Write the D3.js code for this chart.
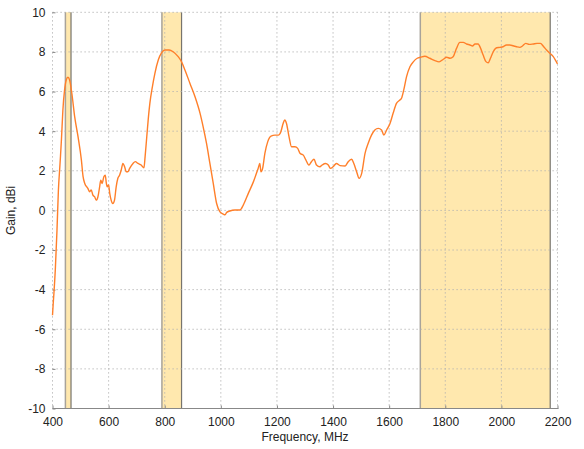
<!doctype html>
<meta charset="utf-8" />
<style>
    body { margin: 0; background: #fff; }
    text { font-family: "Liberation Sans", Arial, sans-serif; fill: #222; }
</style>
<svg></svg>

<script src="https://cdn.jsdelivr.net/npm/d3@7"></script>

<script>
    // measured gain curve (MHz, dBi)
    var freqs = [400, 403, 405, 410, 416, 421, 427, 432, 437, 443, 449, 455, 461, 469, 479, 491,
        503, 509, 515, 526, 532, 538, 544, 550, 556, 562, 568, 572, 577, 583, 588, 592, 595, 600,
        604, 609, 615, 621, 627, 633, 639, 645, 651, 657, 663, 669, 675, 687, 695, 705, 716, 726,
        730, 736, 741, 747, 756, 765, 777, 789, 801, 816, 830, 848, 860, 872, 890, 908, 926, 937,
        949, 961, 973, 985, 997, 1009, 1015, 1021, 1032, 1050, 1068, 1080, 1098, 1116, 1133, 1139,
        1143, 1149, 1157, 1167, 1179, 1193, 1205, 1214, 1222, 1228, 1234, 1243, 1252, 1264, 1274,
        1282, 1294, 1302, 1314, 1323, 1332, 1341, 1353, 1361, 1373, 1383, 1391, 1400, 1412, 1425,
        1443, 1454, 1466, 1474, 1484, 1493, 1502, 1514, 1525, 1537, 1549, 1561, 1573, 1581, 1591,
        1603, 1614, 1626, 1638, 1644, 1652, 1662, 1674, 1686, 1700, 1712, 1727, 1745, 1763, 1778,
        1793, 1805, 1817, 1828, 1840, 1852, 1864, 1876, 1888, 1897, 1906, 1917, 1926, 1935, 1945,
        1953, 1961, 1971, 1983, 1995, 2006, 2018, 2030, 2042, 2054, 2066, 2075, 2087, 2099, 2113,
        2127, 2139, 2151, 2161, 2173, 2185, 2197, 2200];
    var gains = [-5.29, -4.6, -4.2, -3.0, -1.0, 1.0, 2.4, 3.6, 5.06, 6.07, 6.58, 6.72, 6.58, 5.9,
        4.73, 3.72, 2.54, 1.70, 1.36, 1.11, 0.94, 1.03, 0.77, 0.69, 0.52, 0.69, 1.19, 1.53, 1.36,
        1.70, 1.78, 1.36, 1.19, 1.28, 0.86, 0.52, 0.35, 0.52, 1.19, 1.62, 1.78, 2.04, 2.37, 2.2,
        1.95, 1.95, 2.12, 2.37, 2.46, 2.37, 2.29, 2.15, 2.7, 3.72, 4.56, 5.4, 6.24, 6.92, 7.59,
        7.96, 8.1, 8.1, 8.01, 7.76, 7.5, 7.09, 6.41, 5.74, 4.9, 4.22, 3.38, 2.37, 1.36, 0.35,
        -0.07, -0.19, -0.22, -0.10, -0.03, 0.02, 0.02, 0.27, 0.86, 1.44, 2.12, 2.37, 1.95, 2.12,
        2.88, 3.46, 3.75, 3.80, 3.80, 3.97, 4.39, 4.56, 4.39, 3.72, 3.21, 3.21, 3.13, 2.88, 2.79,
        2.58, 2.29, 2.46, 2.58, 2.29, 2.2, 2.29, 2.37, 2.29, 2.12, 2.2, 2.37, 2.26, 2.24, 2.46,
        2.58, 2.37, 1.95, 1.62, 1.87, 2.88, 3.38, 3.80, 4.06, 4.14, 4.06, 3.80, 4.06, 4.39, 4.90,
        5.40, 5.57, 5.66, 6.08, 6.75, 7.25, 7.5, 7.68, 7.73, 7.78, 7.68, 7.56, 7.5, 7.63, 7.73,
        7.68, 7.76, 8.18, 8.48, 8.48, 8.40, 8.35, 8.30, 8.40, 8.40, 8.18, 7.84, 7.51, 7.45, 7.68,
        8.01, 8.21, 8.23, 8.26, 8.35, 8.35, 8.31, 8.26, 8.23, 8.30, 8.43, 8.38, 8.40, 8.43, 8.43,
        8.26, 8.10, 7.93, 7.76, 7.47, 7.4];

    // operating bands (MHz)
    var bandStart = [446, 790, 1711];
    var bandEnd = [466, 860, 2174];

    var xTicks = [400, 600, 800, 1000, 1200, 1400, 1600, 1800, 2000, 2200];
    var yTicks = [-10, -8, -6, -4, -2, 0, 2, 4, 6, 8, 10];

    var W = 584, H = 449;
    var padL = 52.5, padR = 557.5, padT = 12.3, padB = 408.5;

    var svg = d3.select('svg')
        .attr('width', W)
        .attr('height', H)

    var x = d3.scaleLinear().domain([400, 2200]).range([padL, padR]);
    var y = d3.scaleLinear().domain([-10, 10]).range([padB, padT]);

    // plain hyphen for negatives, like the original
    var fmt = function (v) { return String(v); };

    // bands
    var bands = svg.append('g');
    bandStart.forEach(function (s, i) {
        var x0 = x(s), x1 = x(bandEnd[i]);
        bands.append('rect')
            .attr('x', x0).attr('y', padT)
            .attr('width', x1 - x0).attr('height', padB - padT)
            .style('fill', '#ffe8ae');
        bands.append('line')
            .attr('x1', x0).attr('x2', x0).attr('y1', padT).attr('y2', padB)
            .style('stroke', '#a8a39a').style('stroke-width', 1.5);
        bands.append('line')
            .attr('x1', x1).attr('x2', x1).attr('y1', padT).attr('y2', padB)
            .style('stroke', '#77746d').style('stroke-width', 1.2);
    });

    // dotted grid
    var grid = svg.append('g')
        .style('stroke', '#b0b0b0')
        .style('stroke-width', 1)
        .style('stroke-dasharray', '1.2,2.8');
    xTicks.forEach(function (t) {
        grid.append('line')
            .attr('x1', x(t)).attr('x2', x(t)).attr('y1', padT).attr('y2', padB);
    });
    yTicks.forEach(function (t) {
        if (t === -10) return;
        grid.append('line')
            .attr('x1', padL).attr('x2', padR).attr('y1', y(t)).attr('y2', y(t));
    });

    // bottom axis
    var xAxis = d3.axisBottom(x).tickValues(xTicks).tickFormat(fmt)
        .tickSize(-3).tickPadding(6);
    var gx = svg.append('g')
        .attr('transform', 'translate(0,' + padB + ')')
        .call(xAxis);
    gx.select('.domain').style('stroke', '#888').attr('d', 'M' + padL + ',0H' + (padR + 1));
    gx.selectAll('.tick line').style('stroke', '#888');
    gx.selectAll('.tick text').style('font-size', '12px').attr('dy', '0.95em').style('fill', '#222');

    // left axis
    var yAxis = d3.axisLeft(y).tickValues(yTicks).tickFormat(fmt)
        .tickSize(-3).tickPadding(7);
    var gy = svg.append('g')
        .attr('transform', 'translate(' + padL + ',0)')
        .call(yAxis);
    gy.select('.domain').remove();
    gy.selectAll('.tick line').style('stroke', '#888');
    gy.selectAll('.tick text').style('font-size', '12px').style('fill', '#222');

    // curve
    var line = d3.line()
        .x(function (d, i) { return x(freqs[i]); })
        .y(function (d, i) { return y(gains[i]); })
        .curve(d3.curveMonotoneX);

    svg.append('path')
        .attr('d', line(gains))
        .style('fill', 'none')
        .style('stroke', '#ff7f2a')
        .style('stroke-width', 1.4)
        .style('stroke-linejoin', 'round');

    // axis titles
    svg.append('text')
        .attr('x', (padL + padR) / 2).attr('y', 441)
        .attr('text-anchor', 'middle')
        .style('font-size', '12px')
        .text('Frequency, MHz');

    svg.append('text')
        .attr('transform', 'translate(15,' + ((padT + padB) / 2) + ') rotate(-90)')
        .attr('text-anchor', 'middle')
        .style('font-size', '12px')
        .text('Gain, dBi');
</script>
